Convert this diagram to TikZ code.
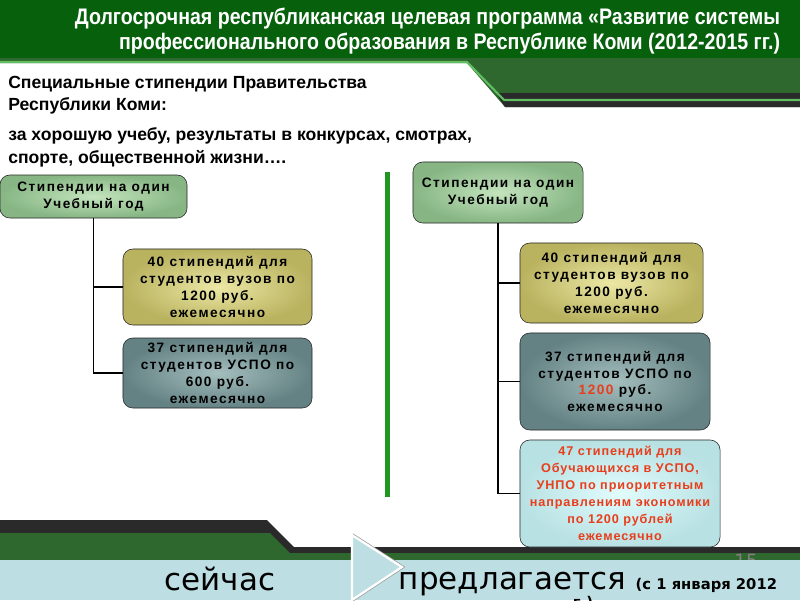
\documentclass[tikz,border=0pt]{standalone}
\usepackage{fontspec}
\setmainfont{Liberation Sans}
\newfontfamily\titlefont[FakeStretch=0.87]{Liberation Sans}
\newfontfamily\boxfont[LetterSpace=11]{Liberation Sans}
\newfontfamily\notefont[LetterSpace=7]{Liberation Sans}
\newfontfamily\bandfont{DejaVu Sans}

\definecolor{headGreen}{RGB}{6,96,12}
\definecolor{bandGreen}{RGB}{46,104,46}
\definecolor{bandDark}{RGB}{42,42,42}
\definecolor{lineGreen}{RGB}{96,190,96}
\definecolor{barGreen}{RGB}{34,150,34}
\definecolor{footBlue}{RGB}{189,223,227}
\definecolor{boxGreenIn}{RGB}{196,228,190}
\definecolor{boxGreenOut}{RGB}{135,182,132}
\definecolor{boxYellowIn}{RGB}{236,232,165}
\definecolor{boxYellowOut}{RGB}{185,178,95}
\definecolor{boxGreyIn}{RGB}{165,190,190}
\definecolor{boxGreyOut}{RGB}{100,130,132}
\definecolor{boxCyan}{RGB}{205,250,252}
\definecolor{textRed}{RGB}{232,62,28}

\begin{document}
\begin{tikzpicture}[x=0.025cm, y=-0.025cm,
  box/.style={draw=black!85, rounded corners=7pt, align=center, inner sep=1pt,
    font=\boxfont\bfseries\fontsize{9.7}{12}\selectfont},
  greenbox/.style={box, inner color=boxGreenIn, outer color=boxGreenOut},
  yellowbox/.style={box, inner color=boxYellowIn, outer color=boxYellowOut},
  greybox/.style={box, inner color=boxGreyIn, outer color=boxGreyOut},
  cyanbox/.style={box, inner color=boxCyan!60!white, outer color=boxCyan!90!black, text=textRed,
    font=\notefont\bfseries\fontsize{9}{12}\selectfont},
  link/.style={line width=1.4pt},
  heading/.style={anchor=base west, inner sep=0pt, font=\bfseries\fontsize{12.5}{15}\selectfont}]
\useasboundingbox (0,0) rectangle (800,600);
\clip (0,0) rectangle (800,600);
\fill[white] (0,0) rectangle (800,600);

% header
\fill[headGreen] (0,0) rectangle (800,60);
\fill[bandGreen] (0,58) -- (800,58) -- (800,107) -- (505,107) -- (467,63) -- (0,63) -- cycle;
\fill[bandDark] (496,93) -- (800,93) -- (800,107) -- (505,107) -- cycle;
\draw[lineGreen, line width=1.5pt] (0,62) -- (467,62) -- (504,100) -- (800,100);
\node[anchor=base east, text=white, font=\titlefont\bfseries\fontsize{16}{18}\selectfont] (title1) at (785,24)
  {Долгосрочная республиканская целевая программа «Развитие системы};
\node[anchor=base east, text=white, font=\titlefont\bfseries\fontsize{16}{18}\selectfont] (title2) at (785,49)
  {профессионального образования в Республике Коми (2012-2015 гг.)};

\node[heading] (grant1) at (8,88) {Специальные стипендии Правительства};
\node[heading] (grant2) at (8,110) {Республики Коми:};
\node[heading] (reason1) at (8,140) {за хорошую учебу, результаты в конкурсах, смотрах,};
\node[heading] (reason2) at (8,163) {спорте, общественной жизни….};

% footer
\fill[bandDark] (0,520) -- (267,520) -- (294,547) -- (800,547) -- (800,560) -- (0,560) -- cycle;
\fill[bandGreen] (0,533) -- (270,533) -- (290,553) -- (800,553) -- (800,560) -- (0,560) -- cycle;
\node[anchor=base, text=gray, font=\bandfont\fontsize{13}{15}\selectfont] (pagenum) at (746,567) {15};
\fill[footBlue] (0,560) rectangle (800,600);
\draw[gray!80, line width=2.6pt] (352,535) -- (402,567) -- (352,600);
\filldraw[fill=footBlue, draw=white, line width=1.6pt] (352,535) -- (402,567) -- (352,600) -- cycle;
\node[anchor=base, font=\bandfont\fontsize{22}{26}\selectfont] (now) at (220,590) {сейчас};
\node[anchor=base] (offer) at (588,589)
  {\bandfont\fontsize{22}{26}\selectfont предлагается \fontsize{10.5}{12}\selectfont\bfseries (с 1 января 2012};
\node[anchor=base, font=\bandfont\bfseries\fontsize{10.5}{12}\selectfont] (offertail) at (583,607) {г.)};

% divider
\fill[barGreen] (385,172) rectangle (390,497);

% left tree
\node[greenbox, minimum width=4.675cm, minimum height=1.075cm] (lhead) at (93.5,196.5)
  {Стипендии на один\\Учебный год};
\node[yellowbox, minimum width=4.725cm, minimum height=1.9cm] (lvuz) at (217.5,287)
  {40 стипендий для\\студентов вузов по\\1200 руб.\\ежемесячно};
\node[greybox, minimum width=4.725cm, minimum height=1.75cm] (luspo) at (217.5,373)
  {37 стипендий для\\студентов УСПО по\\600 руб.\\ежемесячно};
\draw[link] (lhead.south) |- (lvuz.west);
\draw[link] (lhead.south) |- (luspo.west);

% right tree
\node[greenbox, minimum width=4.25cm, minimum height=1.525cm] (rhead) at (498,192.5)
  {Стипендии на один\\Учебный год};
\node[yellowbox, minimum width=4.575cm, minimum height=2cm] (rvuz) at (611.5,283)
  {40 стипендий для\\студентов вузов по\\1200 руб.\\ежемесячно};
\node[greybox, minimum width=4.75cm, minimum height=2.425cm] (ruspo) at (615,381.5)
  {37 стипендий для\\студентов УСПО по\\\textcolor{textRed}{1200} руб.\\ежемесячно};
\node[cyanbox, minimum width=5cm, minimum height=2.675cm] (runpo) at (620,493.5)
  {47 стипендий для\\Обучающихся в УСПО,\\УНПО по приоритетным\\направлениям экономики\\по 1200 рублей\\ежемесячно};
\draw[link] (rhead.south) |- (rvuz.west);
\draw[link] (rhead.south) |- (ruspo.west);
\draw[link] (rhead.south) |- (runpo.west);
\end{tikzpicture}
\end{document}
